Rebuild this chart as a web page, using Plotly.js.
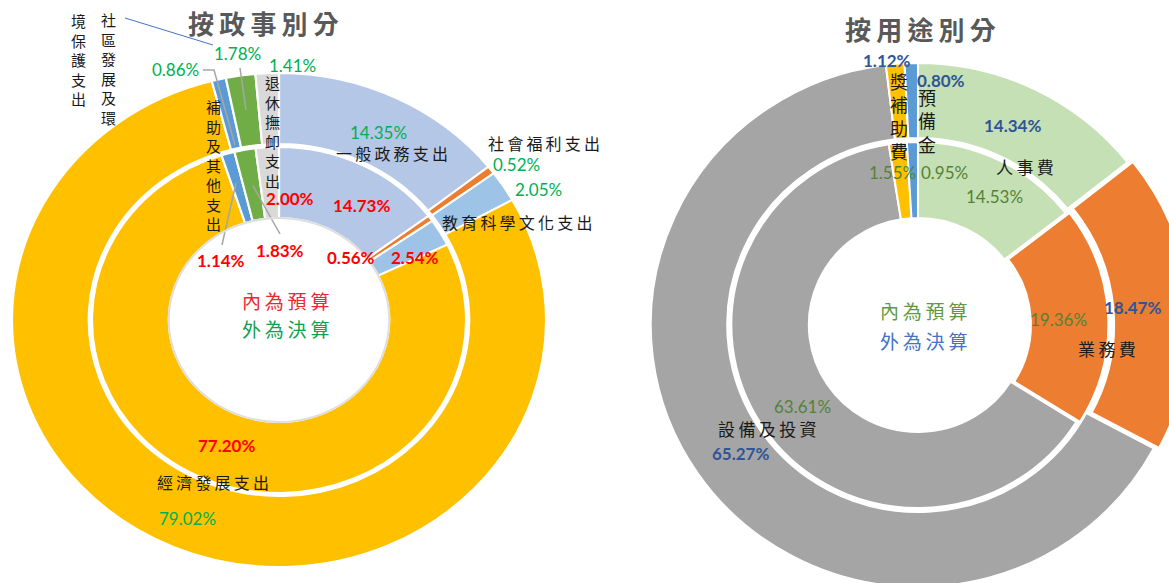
<!DOCTYPE html>
<html><head><meta charset="utf-8">
<script src="https://cdn.plot.ly/plotly-3.0.1.min.js"></script>
<style>
html,body{margin:0;padding:0;background:#fff;width:1169px;height:583px;overflow:hidden}
#chart{width:1300px;height:700px}
</style>
</head><body><div id="chart"></div>
<script>
// ---------- data ----------
const fnCategories = ['一般政務支出','社會福利支出','教育科學文化支出','經濟發展支出','補助及其他支出','社區發展及環境保護支出','退休撫卹支出'];
const fnBudget = [14.73, 0.56, 2.54, 77.20, 1.14, 1.83, 2.00];   // inner ring 預算
const fnFinal  = [14.35, 0.52, 2.05, 79.02, 0.86, 1.78, 1.41];   // outer ring 決算
const useCategories = ['人事費','業務費','設備及投資','獎補助費','預備金'];
const useBudget = [14.53, 19.36, 63.61, 1.55, 0.95];            // inner ring 預算
const useFinal  = [14.34, 18.47, 65.27, 1.12, 0.80];            // outer ring 決算
const titles = ['按政事別分','按用途別分'];
const centerTexts = ['內為預算','外為決算'];

// ---------- styles / geometry ----------
const W = 1300, H = 700;
const fnColors  = ['#b4c7e7','#ed7d31','#9dc3e6','#ffc000','#5b9bd5','#70ad47','#d9d9d9'];
const useColors = ['#c5e0b4','#ed7d31','#a5a5a5','#ffc000','#5b9bd5'];
const L = {cx:279, cy:320, rOut:247, rOutHole:176, rIn:173, rInHole:102, sx:1.081};
const R = {cx:918, cy:325, rOut:262, rOutHole:187, rIn:183, rInHole:107, sx:1.02};
const cjk = '"Noto Sans CJK TC","Noto Sans CJK SC",sans-serif';
const num = 'Lato, "Open Sans", sans-serif';

function pie(values, labels, colors, cx, cy, r, holeR, pulls) {
  const mp = pulls ? Math.max(...pulls) : 0;
  const h = r * (1 + mp);
  return {
    type:'pie', values:values, labels:labels, sort:false, direction:'clockwise', rotation:0,
    hole: holeR / r, textinfo:'none', hoverinfo:'label+value',
    marker:{colors:colors, line:{color:'#ffffff', width:2}},
    pull: pulls || 0, showlegend:false,
    domain:{x:[(cx - h) / W, (cx + h) / W], y:[1 - (cy + h) / H, 1 - (cy - h) / H]}
  };
}
const pullUse = useCategories.map(c => c === '業務費' ? 0.02 : 0);

const data = [
  pie(fnFinal, fnCategories, fnColors, L.cx, L.cy, L.rOut, L.rOutHole),
  pie(fnBudget, fnCategories, fnColors, L.cx, L.cy, L.rIn, L.rInHole),
  pie(useFinal, useCategories, useColors, R.cx, R.cy, R.rOut, R.rOutHole, pullUse),
  pie(useBudget, useCategories, useColors, R.cx, R.cy, R.rIn, R.rInHole, pullUse)
];

// ---------- text ----------
const pct = v => v.toFixed(2) + '%';
const sp = s => s.split('').join('\u2009');
const vert = s => s.split('').join('<br>');
function ann(text, x, y, font, extra) {
  return Object.assign({text:text, x:x / W, y:1 - y / H, xref:'paper', yref:'paper',
    xanchor:'center', yanchor:'middle', showarrow:false, font:font}, extra || {});
}
const fCat = {family:cjk, size:16, color:'#1a1a1a'};
const fVertL = {family:cjk, size:15, color:'#1a1a1a'};
const fVertR = {family:cjk, size:18, color:'#1a1a1a'};
const fGreen = {family:num, size:17, color:'#00b050'};
const fRed = {family:num, size:17, color:'#ff0000', weight:'bold'};
const fBlue = {family:num, size:17, color:'#2f5597', weight:'bold'};
const fGreen2 = {family:num, size:17, color:'#548235'};
const fTitle = {family:cjk, size:26, color:'#595959', weight:'bold'};

const annotations = [
  ann(sp(titles[0]), 263, 23, fTitle),
  ann(sp(titles[1]), 920, 29, fTitle),
  // left – category names
  ann(vert(fnCategories[5].slice(0,6)), 108, 68, fVertL),
  ann(vert(fnCategories[5].slice(6)), 78, 59, fVertL),
  ann(vert(fnCategories[6]), 272, 131, fVertL),
  ann(vert(fnCategories[4]), 213, 165, fVertL),
  ann(sp(fnCategories[0]), 392, 153, fCat),
  ann(sp(fnCategories[1]), 544, 143, fCat),
  ann(sp(fnCategories[2]), 517, 222, fCat),
  ann(sp(fnCategories[3]), 213, 482, fCat),
  // left – outer (決算) values
  ann(pct(fnFinal[0]), 378, 132, fGreen),
  ann(pct(fnFinal[1]), 516, 164, fGreen),
  ann(pct(fnFinal[2]), 538, 190, fGreen),
  ann(pct(fnFinal[3]), 187, 518, fGreen),
  ann(pct(fnFinal[4]), 175, 70, fGreen),
  ann(pct(fnFinal[5]), 237, 53, fGreen),
  ann(pct(fnFinal[6]), 292, 65, fGreen),
  // left – inner (預算) values
  ann(pct(fnBudget[0]), 361, 205, fRed),
  ann(pct(fnBudget[1]), 351, 257, fRed),
  ann(pct(fnBudget[2]), 415, 257, fRed),
  ann(pct(fnBudget[3]), 226, 445, fRed),
  ann(pct(fnBudget[4]), 221, 261, fRed),
  ann(pct(fnBudget[5]), 280, 250, fRed),
  ann(pct(fnBudget[6]), 290, 198, fRed),
  // left – centre
  ann(sp(centerTexts[0]), 285, 300, {family:cjk, size:19, color:'#e8292f'}),
  ann(sp(centerTexts[1]), 285, 328, {family:cjk, size:19, color:'#12a04f'}),
  // right – category names
  ann(vert(useCategories[3]), 899, 116, fVertR),
  ann(vert(useCategories[4]), 927, 121, fVertR),
  ann(sp(useCategories[0]), 1025, 167, {family:cjk, size:17, color:'#1a1a1a'}),
  ann(sp(useCategories[1]), 1107, 348, {family:cjk, size:17, color:'#1a1a1a'}),
  ann(sp(useCategories[2]), 767, 428, {family:cjk, size:17, color:'#1a1a1a'}),
  // right – outer (決算) values
  ann(pct(useFinal[0]), 1012, 125, fBlue),
  ann(pct(useFinal[1]), 1132, 307, fBlue),
  ann(pct(useFinal[2]), 740, 453, fBlue),
  ann(pct(useFinal[3]), 887, 60, fBlue),
  ann(pct(useFinal[4]), 941, 81, fBlue),
  // right – inner (預算) values
  ann(pct(useBudget[0]), 994, 197, fGreen2),
  ann(pct(useBudget[1]), 1058, 319, fGreen2),
  ann(pct(useBudget[2]), 802, 406, fGreen2),
  ann(pct(useBudget[3]), 892, 172, fGreen2),
  ann(pct(useBudget[4]), 944, 173, fGreen2),
  // right – centre
  ann(sp(centerTexts[0]), 923, 310, {family:cjk, size:19, color:'#5e9a3c'}),
  ann(sp(centerTexts[1]), 923, 341, {family:cjk, size:19, color:'#4472c4'})
];

// leader lines and hole rim
function pth(pts) { return pts.map((p, i) => (i ? 'L' : 'M') + (p[0] / W).toFixed(5) + ',' + (1 - p[1] / H).toFixed(5)).join(' '); }
const shapes = [
  {type:'path', xref:'paper', yref:'paper', path:pth([[125,18],[213,45]]), line:{color:'#4472c4', width:1}},
  {type:'path', xref:'paper', yref:'paper', path:pth([[240,68],[246,110]]), line:{color:'#a6a6a6', width:1.5}},
  {type:'path', xref:'paper', yref:'paper', path:pth([[203,70],[214,70],[235,145]]), line:{color:'#a6a6a6', width:1.5}},
  {type:'path', xref:'paper', yref:'paper', path:pth([[280,234],[253,186]]), line:{color:'#a6a6a6', width:1.5}},
  {type:'path', xref:'paper', yref:'paper', path:pth([[222,245],[236,183]]), line:{color:'#a6a6a6', width:1.5}},
  {type:'circle', xref:'paper', yref:'paper', layer:'above',
   x0:(L.cx - L.rInHole * L.sx) / W, x1:(L.cx + L.rInHole * L.sx) / W,
   y0:1 - (L.cy + L.rInHole) / H, y1:1 - (L.cy - L.rInHole) / H,
   line:{color:'#dedede', width:2}}
];

const layout = {
  width:W, height:H, margin:{l:0, r:0, t:0, b:0},
  paper_bgcolor:'#ffffff', plot_bgcolor:'#ffffff',
  showlegend:false, annotations:annotations, shapes:shapes
};

Plotly.newPlot('chart', data, layout, {staticPlot:true, displayModeBar:false}).then(function () {
  const groups = document.querySelectorAll('.pielayer g.trace');
  const stretch = [[L.cx, L.sx], [L.cx, L.sx], [R.cx, R.sx], [R.cx, R.sx]];
  groups.forEach(function (g, i) {
    const s = stretch[i];
    if (s && s[1] !== 1) g.setAttribute('transform', 'translate(' + (s[0] * (1 - s[1])) + ',0) scale(' + s[1] + ',1)');
  });
});
</script>
</body></html>
